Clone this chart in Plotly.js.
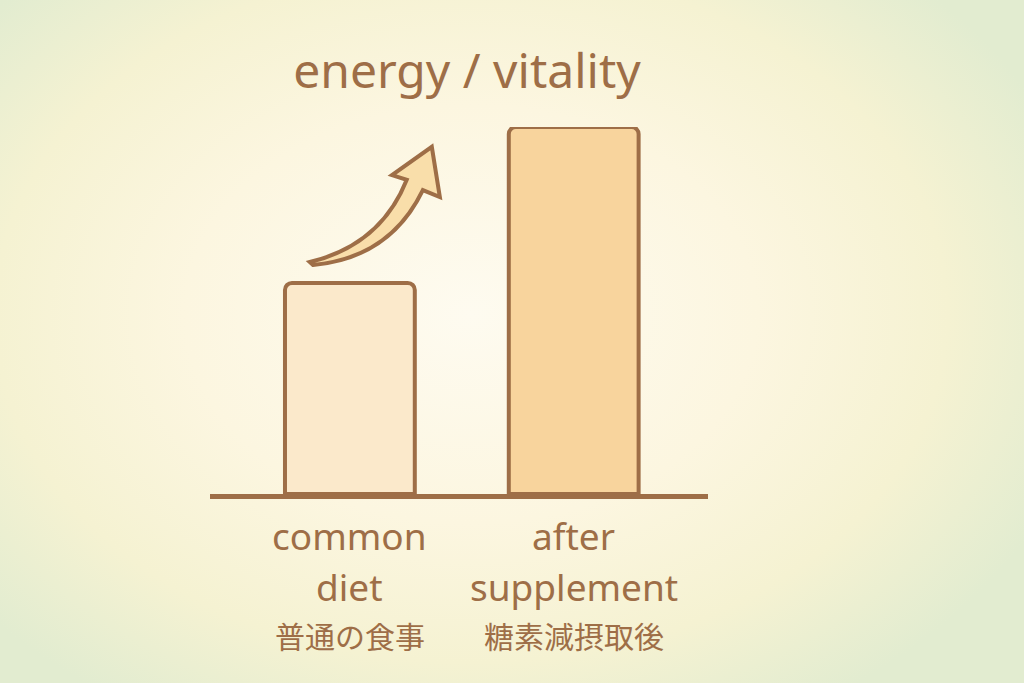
<!DOCTYPE html>
<html>
<head>
<meta charset="utf-8">
<script src="https://cdn.plot.ly/plotly-3.0.1.min.js"></script>
<style>
  html, body { margin: 0; padding: 0; }
  body {
    width: 1024px; height: 683px; overflow: hidden;
    background: radial-gradient(ellipse 62% 68% at 46% 46%, #fefbf0 0%, #fcf6e0 45%, #f5f2d2 75%, #e2ecd0 100%);
  }
  #chart { width: 1024px; height: 683px; }
</style>
</head>
<body>
<div id="chart"></div>
<script>
(function () {
  'use strict';

  var categories = ['common diet', 'after supplement'];
  var labelLine1 = ['common', 'after'];
  var labelLine2 = ['diet', 'supplement'];
  var japaneseLabels = ['普通の食事', '糖素減摂取後'];
  var energyValues = [5.75, 10];
  var barFills = ['#fbe9cb', '#f8d49d'];

  var BROWN = '#9e6e47';
  var FONT = 'Noto Sans, DejaVu Sans, sans-serif';
  var JP_FONT = 'Noto Sans CJK JP, sans-serif';

  // decorative "up" arrow between the bars, in data units
  var arrowPath = 'M -0.179 6.32 Q 0.138 6.78 0.254 8.56 L 0.188 8.69 L 0.366 9.46 ' +
    'L 0.402 8.09 L 0.326 8.28 Q 0.179 6.43 -0.165 6.24 Z';

  var barTrace = {
    type: 'bar',
    x: [0, 1],
    y: energyValues,
    text: categories,
    textposition: 'none',
    width: 0.58,
    marker: {
      color: barFills,
      line: { color: BROWN, width: 4 },
      cornerradius: 7,
    },
    hoverinfo: 'skip',
  };

  // category labels below the baseline: two english rows, one japanese row
  var rows = [
    { texts: labelLine1, y: -0.1144, font: { family: FONT, size: 37, color: BROWN } },
    { texts: labelLine2, y: -0.2534, font: { family: FONT, size: 37, color: BROWN } },
    { texts: japaneseLabels, y: -0.384, font: { family: JP_FONT, size: 30, color: BROWN } },
  ];
  var annotations = [];
  rows.forEach(function (row) {
    row.texts.forEach(function (t, i) {
      annotations.push({
        x: i, xref: 'x',
        y: row.y, yref: 'paper',
        yanchor: 'middle',
        text: t,
        showarrow: false,
        font: row.font,
      });
    });
  });

  var layout = {
    paper_bgcolor: 'rgba(0,0,0,0)',
    plot_bgcolor: 'rgba(0,0,0,0)',
    width: 1024,
    height: 683,
    margin: { l: 210, r: 316, t: 127, b: 189 },
    showlegend: false,
    font: { family: FONT, color: BROWN },
    title: {
      text: 'energy / vitality',
      x: 0.456, xref: 'container', xanchor: 'center',
      y: 0.896, yref: 'container', yanchor: 'middle',
      font: { family: FONT, size: 48, color: BROWN },
    },
    xaxis: {
      range: [-0.625, 1.6],
      showticklabels: false,
      showline: true,
      linecolor: BROWN,
      linewidth: 5,
      showgrid: false,
      zeroline: false,
      ticks: '',
      fixedrange: true,
    },
    yaxis: {
      range: [0, 10],
      visible: false,
      fixedrange: true,
    },
    shapes: [{
      type: 'path',
      xref: 'x', yref: 'y',
      path: arrowPath,
      fillcolor: '#f9deaa',
      line: { color: BROWN, width: 4 },
    }],
    annotations: annotations,
  };

  Plotly.newPlot('chart', [barTrace], layout, { displayModeBar: false, staticPlot: true });
})();
</script>
</body>
</html>
